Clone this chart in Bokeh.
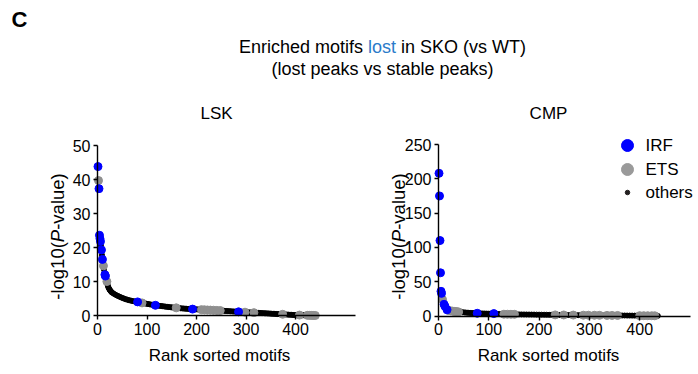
import math
from bokeh.plotting import figure
from bokeh.models import Range1d, Label, FixedTicker
from bokeh.layouts import column, row
from bokeh.embed import file_html
from bokeh.resources import INLINE
from bokeh.core.properties import value

FONT = "Liberation Sans"
BLUE = "#0000ff"
GRAY = "#8f8f8f"
LEG_GRAY = "#9a9a9a"
BLACK = "#000000"

# ---------------- LSK data ----------------
lsk_irf_rank = [1, 3, 4, 5, 6, 8, 10, 15, 16, 81, 117, 192, 285]
lsk_irf_val = [43.8, 37.3, 23.6, 22.6, 21.8, 19.3, 16.5, 12.0, 11.6, 4.0, 3.0, 1.88, 1.08]
lsk_ets_rank = [2, 12, 19, 90, 159, 210, 216, 222, 228, 234, 241, 248, 298, 316, 374, 408, 424, 428, 432, 436, 440]
lsk_ets_val = [39.7, 14.6, 10.0, 3.7, 2.25, 1.72, 1.67, 1.63, 1.59, 1.55, 1.5, 1.45, 0.97, 0.84, 0.36, 0.12, 0.05, 0.04, 0.03, 0.02, 0.01]
lsk_oth_rank = [7, 9, 11, 13, 14, 17, 18, 20, 21, 22, 23, 24, 25, 26, 27, 28, 29, 30,
                33, 36, 39, 42, 45, 48, 51, 54, 57, 60, 63, 66, 69, 72, 75, 78, 84, 87,
                93, 96, 99, 102, 105, 108, 111, 114, 120, 123, 126, 129, 132, 135, 138,
                141, 144, 147, 150, 153, 156, 162, 165, 168, 171, 174, 177, 180, 183, 186,
                189, 195, 198, 201, 204, 207, 213, 219, 225, 231, 237, 244, 251, 254, 257,
                260, 263, 266, 269, 272, 275, 278, 281, 288, 291, 294, 301, 304, 307, 310,
                313, 319, 322, 325, 328, 331, 334, 337, 340, 343, 346, 349, 352, 355, 358,
                361, 364, 367, 370, 377, 380, 383, 386, 389, 392, 395, 398, 401, 404, 411,
                414, 417, 420, 426, 430, 434, 438, 442]
lsk_oth_val = [20.6, 17.8, 15.6, 13.5, 12.6, 11.0, 10.5, 9.2, 8.7, 8.3, 8.0, 7.7, 7.5, 7.3, 7.1, 6.95, 6.8, 6.7,
               6.4, 6.15, 5.9, 5.7, 5.5, 5.3, 5.12, 4.95, 4.8, 4.66, 4.53, 4.42, 4.32, 4.22, 4.13, 4.05, 3.9, 3.8,
               3.62, 3.54, 3.46, 3.39, 3.3, 3.22, 3.14, 3.07, 2.96, 2.9, 2.84, 2.78, 2.72, 2.66, 2.6,
               2.54, 2.49, 2.44, 2.39, 2.34, 2.29, 2.2, 2.16, 2.12, 2.08, 2.05, 2.01, 1.98, 1.95, 1.92,
               1.9, 1.85, 1.82, 1.8, 1.77, 1.74, 1.7, 1.65, 1.61, 1.57, 1.53, 1.48, 1.42, 1.39, 1.36,
               1.33, 1.3, 1.27, 1.24, 1.21, 1.18, 1.15, 1.12, 1.05, 1.02, 1.0, 0.95, 0.93, 0.91, 0.89,
               0.86, 0.82, 0.8, 0.77, 0.75, 0.72, 0.69, 0.67, 0.64, 0.62, 0.59, 0.56, 0.53, 0.5, 0.48,
               0.45, 0.42, 0.4, 0.37, 0.33, 0.3, 0.28, 0.25, 0.22, 0.2, 0.17, 0.15, 0.14, 0.13, 0.11,
               0.1, 0.08, 0.07, 0.05, 0.04, 0.03, 0.02, 0.01]

# ---------------- CMP data ----------------
cmp_irf_rank = [1, 2, 3, 4, 5, 6, 11, 13, 17, 77, 110]
cmp_irf_val = [208, 175, 110, 63, 36, 33, 17, 14, 9, 4, 3.5]
cmp_ets_rank = [8, 20, 24, 28, 31, 34, 37, 40, 130, 137, 144, 151, 232, 249, 268, 288, 298, 310,
                320, 335, 345, 356, 400, 408, 416, 424, 430]
cmp_ets_val = [24, 8, 7.5, 7.1, 6.8, 6.5, 6.2, 6.0, 2.6, 2.55, 2.5, 2.45, 1.6, 1.5, 1.35, 1.2, 1.15, 1.05,
               1.0, 0.9, 0.85, 0.8, 0.5, 0.45, 0.4, 0.35, 0.3]
cmp_oth_rank = [7, 9, 10, 12, 14, 15, 16, 18, 19, 21, 22, 23, 25, 26, 27, 29, 30, 32, 33, 35, 36, 38, 39,
                42, 45, 48, 51, 54, 57, 60, 63, 66, 69, 72, 75, 80, 84, 88, 92, 96, 100, 104, 108, 114,
                118, 122, 126, 133, 140, 147, 155, 160, 165, 170, 175, 180, 185, 190, 195, 200, 205, 210,
                215, 220, 225, 229, 236, 240, 244, 253, 258, 263, 273, 278, 283, 293, 303, 306, 314, 317,
                325, 330, 340, 350, 352, 360, 365, 370, 375, 380, 385, 390, 395, 404, 412, 420, 427, 433, 436]
cmp_oth_val = [28, 21, 19, 15.5, 12.5, 11, 10, 8.6, 8.3, 7.9, 7.7, 7.6, 7.4, 7.3, 7.2, 7.0, 6.9, 6.7, 6.6, 6.4, 6.3, 6.1, 6.05,
               5.8, 5.6, 5.4, 5.2, 5.0, 4.8, 4.65, 4.5, 4.35, 4.2, 4.1, 4.0, 3.9, 3.8, 3.7, 3.6, 3.5, 3.4, 3.3, 3.2, 3.1,
               3.0, 2.9, 2.8, 2.6, 2.55, 2.5, 2.4, 2.35, 2.3, 2.25, 2.2, 2.15, 2.1, 2.05, 2.0, 1.95, 1.9, 1.85,
               1.8, 1.75, 1.7, 1.65, 1.58, 1.55, 1.52, 1.46, 1.42, 1.38, 1.3, 1.27, 1.24, 1.18, 1.1, 1.08, 1.03, 1.01,
               0.97, 0.93, 0.87, 0.82, 0.81, 0.77, 0.73, 0.7, 0.66, 0.62, 0.59, 0.55, 0.52, 0.47, 0.42, 0.38, 0.33, 0.28, 0.25]

lsk_xticks = [0, 100, 200, 300, 400]
lsk_yticks = [0, 10, 20, 30, 40, 50]
cmp_xticks = [0, 100, 200, 300, 400]
cmp_yticks = [0, 50, 100, 150, 200, 250]

title_parts = ["Enriched motifs", "lost", "in SKO (vs WT)"]
subtitle = "(lost peaks vs stable peaks)"
legend_names = ["IRF", "ETS", "others"]

HDR_H = 100
PAGE_H = 374


class Geo:
    """Maps page pixel positions to data values for one panel (layout only)."""
    def __init__(self, left, width, x0px, xppu, y0px, yppu):
        self.left, self.width = left, width
        self.x0px, self.xppu, self.y0px, self.yppu = x0px, xppu, y0px, yppu

    def x(self, px):
        return (px - self.x0px) / self.xppu

    def y(self, py):
        return (self.y0px - py) / self.yppu


def make_panel(g, xb_end_px, ytop):
    p = figure(width=g.width, height=PAGE_H - HDR_H, output_backend="svg", toolbar_location=None,
               x_range=Range1d(g.x(g.left), g.x(g.left + g.width)),
               y_range=Range1d(g.y(PAGE_H), g.y(HDR_H)),
               min_border=0, min_border_left=0, min_border_right=0, min_border_top=0, min_border_bottom=0)
    p.xaxis.fixed_location = 0
    p.yaxis.fixed_location = 0
    p.xaxis.bounds = (0, g.x(xb_end_px))
    p.yaxis.bounds = (0, ytop)
    for ax in (p.xaxis[0], p.yaxis[0]):
        ax.minor_tick_line_color = None
        ax.major_tick_in = 0
        ax.major_tick_out = 4
        ax.axis_line_width = 1.4
        ax.major_tick_line_width = 1.4
        ax.axis_line_color = "black"
        ax.major_tick_line_color = "black"
        ax.major_label_text_font = FONT
        ax.major_label_text_font_size = "16px"
        ax.major_label_text_color = "black"
        ax.major_label_standoff = 3
    p.grid.visible = False
    p.outline_line_color = None
    p.background_fill_color = "white"
    p.border_fill_color = "white"
    return p


def add_text(p, x, y, text, size="17px", angle=0.0, align="center", style="normal", color="black"):
    p.add_layout(Label(x=x, y=y, text=text, angle=angle, text_align=align, text_baseline="middle",
                       text_font=FONT, text_font_size=size, text_font_style=style, text_color=color))


def ylabel(p, g, px, py_center):
    # "-log10(" + italic "P" + "-value)", rotated, reading bottom to top
    fs = 18.5
    size = f"{fs}px"
    w1 = 3.112 * fs
    w2 = 0.667 * fs
    total = w1 + w2 + 3.056 * fs
    b = py_center + total / 2
    add_text(p, g.x(px), g.y(b), "-log10(", size=size, angle=math.pi / 2, align="left")
    add_text(p, g.x(px), g.y(b - w1), "P", size=size, angle=math.pi / 2, align="left", style="italic")
    add_text(p, g.x(px), g.y(b - w1 - w2), "-value)", size=size, angle=math.pi / 2, align="left")


# ---------------- header ----------------
hdr = figure(width=698, height=HDR_H, x_range=Range1d(0, 698), y_range=Range1d(HDR_H, 0),
             output_backend="svg", toolbar_location=None, min_border=0)
hdr.axis.visible = False
hdr.grid.visible = False
hdr.outline_line_color = None
hdr.text(x=[11], y=[19], text=["C"], text_font=value(FONT), text_font_size=value("22px"),
         text_font_style="bold", text_baseline="middle", text_align="left", text_color="black")
fs_t = 18
w_a = 7.169 * fs_t
w_b = 1.556 * fs_t
w_c = 7.223 * fs_t
sp = 0.278 * fs_t
x_start = 382 - (w_a + w_b + w_c) / 2
hdr.text(x=[x_start, x_start + w_a, x_start + w_a + w_b + sp], y=[46, 46, 46], text=title_parts,
         text_font=value(FONT), text_font_size=value("18px"), text_baseline="middle", text_align="left",
         text_color=["black", "#2b7bca", "black"])
hdr.text(x=[382], y=[68], text=[subtitle], text_font=value(FONT), text_font_size=value("18px"),
         text_baseline="middle", text_align="center", text_color="black")

# ---------------- LSK panel ----------------
gl = Geo(left=0, width=370, x0px=97, xppu=0.495, y0px=315, yppu=3.4)
lsk = make_panel(gl, 355, 50)
lsk.xaxis.ticker = FixedTicker(ticks=lsk_xticks)
lsk.yaxis.ticker = FixedTicker(ticks=lsk_yticks)
lsk.scatter(lsk_oth_rank, lsk_oth_val, size=5, color=BLACK)
lsk.scatter(lsk_ets_rank, lsk_ets_val, size=8, color=GRAY)
lsk.scatter(lsk_irf_rank, lsk_irf_val, size=8, color=BLUE)
add_text(lsk, gl.x(216), gl.y(113), "LSK")
add_text(lsk, gl.x(219), gl.y(355), "Rank sorted motifs")
ylabel(lsk, gl, 57, 236)

# ---------------- CMP panel ----------------
gc = Geo(left=370, width=328, x0px=438, xppu=0.503, y0px=315.5, yppu=0.686)
cmp = make_panel(gc, 690, 250)
cmp.xaxis.ticker = FixedTicker(ticks=cmp_xticks)
cmp.yaxis.ticker = FixedTicker(ticks=cmp_yticks)
cmp.scatter(cmp_oth_rank, cmp_oth_val, size=5, color=BLACK)
cmp.scatter(cmp_ets_rank, cmp_ets_val, size=8, color=GRAY)
cmp.scatter(cmp_irf_rank, cmp_irf_val, size=8, color=BLUE)
add_text(cmp, gc.x(548), gc.y(113), "CMP")
add_text(cmp, gc.x(548), gc.y(355), "Rank sorted motifs")
ylabel(cmp, gc, 398, 236)

# legend (drawn manually: marker sizes differ per entry)
leg_y = [gc.y(145), gc.y(169), gc.y(192)]
cmp.scatter([gc.x(627), gc.x(627)], leg_y[:2], size=12, color=[BLUE, LEG_GRAY])
cmp.scatter([gc.x(627)], leg_y[2:], size=4.5, color="#231f20")
for name, yy in zip(legend_names, leg_y):
    add_text(cmp, gc.x(645), yy, name, align="left")

layout = column(hdr, row(lsk, cmp, spacing=0), spacing=0)
open("out.html", "w").write(file_html(layout, INLINE))
